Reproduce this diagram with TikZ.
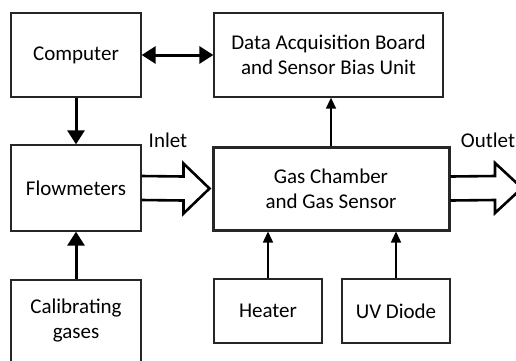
\documentclass[tikz,border=0pt]{standalone}
\usepackage{fontspec}
\setmainfont{Carlito}
\usetikzlibrary{arrows.meta,calc}
\begin{document}
\begin{tikzpicture}[x=1pt,y=-1pt]
	\tikzstyle{block}=[draw=black!85,line width=1.3pt,minimum width=130pt,minimum height=84pt,align=center,font=\fontsize{21}{25}\selectfont]
	\tikzstyle{label}=[font=\fontsize{21}{25}\selectfont]
	\tikzstyle{bold}=[draw,line width=3pt,-{Triangle[length=14pt,width=17pt]}]
	\tikzstyle{thin}=[draw,line width=1.5pt,-{Triangle[length=11pt,width=10pt]}]
	\tikzstyle{flow}=[draw,line width=2.6pt,line join=miter]
	\useasboundingbox (0,0) rectangle (516,360);
	\begin{scope}
		\node [block] (comp) at (76,55) {Computer};
		\node [block,minimum width=229pt] (daq) at (328.5,55) {Data Acquisition Board\\and Sensor Bias Unit};
		\node [block,minimum height=86pt] (meter) at (76,188) {Flowmeters};
		\node [block,line width=3pt,minimum width=236pt,minimum height=83pt] (chamber) at (331,188.5) {Gas Chamber\\and Gas Sensor};
		\node [block,minimum height=82pt] (calib) at (76,321) {Calibrating\\gases};
		\node [block,minimum width=108pt,minimum height=64pt] (heater) at (268,311) {Heater};
		\node [block,minimum width=108pt,minimum height=64pt] (uv) at (396,311) {UV Diode};
		\node [label] (inlet) at (168,140) {Inlet};
		\node [label] (outlet) at (488,140) {Outlet};
		\coordinate (out) at (522,188);

		\path[bold,{Triangle[length=14pt,width=17pt]}-{Triangle[length=14pt,width=17pt]}] (comp) -- (daq);
		\path[bold] (comp) -- (meter);
		\path[bold] (calib) -- (meter);
		\path[thin] (chamber.north) -- (chamber.north |- daq.south);
		\path[thin] (heater.north) -- (heater.north |- chamber.south);
		\path[thin] (uv.north) -- (uv.north |- chamber.south);

		\path[flow] ($(meter.east)+(0,-12)$) -- ($(chamber.west)+(-28,-12)$) -- ($(chamber.west)+(-28,-25)$)
			-- ($(chamber.west)+(-2,0)$) -- ($(chamber.west)+(-28,25)$) -- ($(chamber.west)+(-28,12)$) -- ($(meter.east)+(0,12)$);
		\path[flow] ($(chamber.east)+(0,-12)$) -- ($(out)+(-27,-12)$) -- ($(out)+(-27,-25)$)
			-- (out) -- ($(out)+(-27,25)$) -- ($(out)+(-27,12)$) -- ($(chamber.east)+(0,12)$);
	\end{scope}
\end{tikzpicture}
\end{document}
